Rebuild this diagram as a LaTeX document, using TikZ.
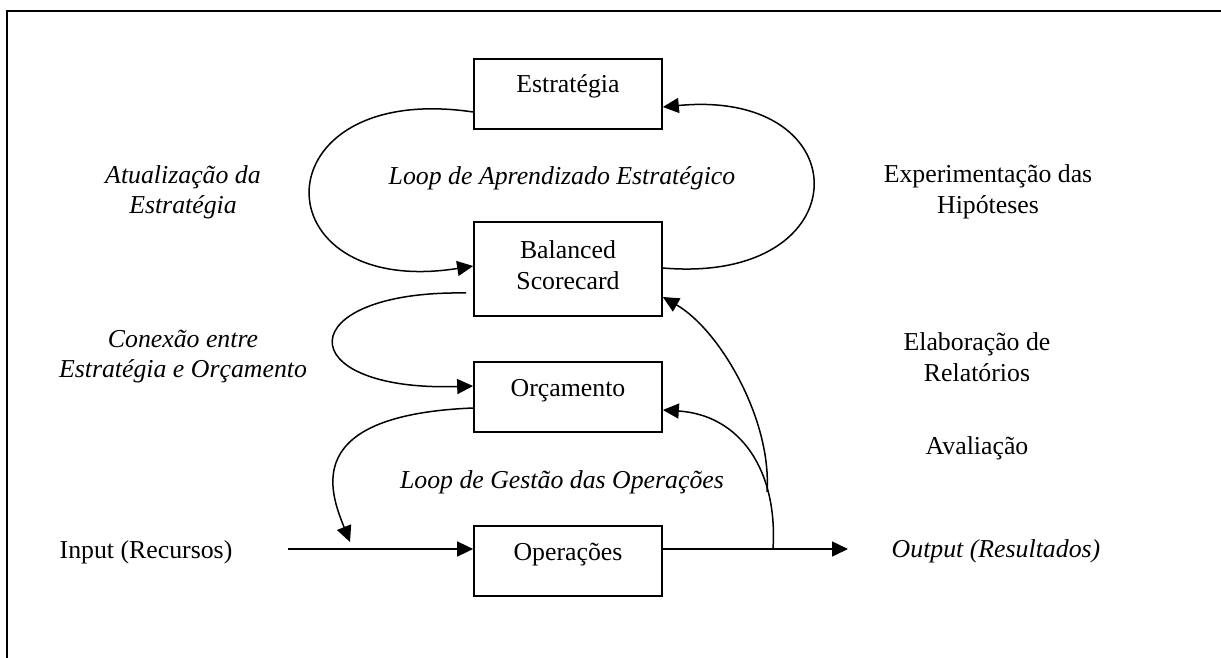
\documentclass[tikz,border=0pt]{standalone}
\usepackage{fontspec}
\setmainfont{Liberation Serif}
\usetikzlibrary{arrows.meta,calc}

\begin{document}
\begin{tikzpicture}[x=0.5pt,y=-0.5pt,
  every node/.style={font=\fontsize{12.9pt}{15.5pt}\selectfont, inner sep=0pt},
  stagebox/.style={draw, line width=0.85pt, minimum width=94pt,
    text height=17pt, text depth=18pt},
  tallbox/.style={draw, line width=0.85pt, minimum width=94pt,
    minimum height=47pt, align=center},
  conn/.style={line width=0.75pt},
  arr/.style={conn, -{Triangle[length=8pt,width=7.5pt]}},
  note/.style={align=center},
  inote/.style={align=center, font=\fontsize{12.9pt}{15pt}\selectfont\itshape}]

\useasboundingbox (0,0) rectangle (1221,658);

% outer frame (left and top edges)
\draw[line width=1pt] (7,658) -- (7,11) -- (1221,11);

% stages
\node[stagebox] (est) at (568,94)  {Estratégia};
\node[tallbox]  (bsc) at (568,269) {Balanced\\Scorecard\rule[-4pt]{0pt}{0pt}};
\node[stagebox] (orc) at (568,397) {Orçamento};
\node[stagebox] (ops) at (568,561) {Operações};

% side labels
\node[inote] (lAtu) at (183,192) {Atualização da\\Estratégia};
\node[note]  (lExp) at (988,192) {Experimentação das\\Hipóteses};
\node[inote] (lCon) at (183,357) {Conexão entre\\Estratégia e Orçamento};
\node[note]  (lEla) at (977,357) {Elaboração de\\Relatórios};
\node[note]  (lAva) at (977,448) {Avaliação};
\node[inote] (lLA)  at (562,178) {Loop de Aprendizado Estratégico};
\node[inote] (lLG)  at (562,482) {Loop de Gestão das Operações};
\node[note]  (lIn)  at (146,552) {Input (Recursos)};
\node[inote] (lOut) at (996,551) {Output (Resultados)};

% free ends of connectors
\coordinate (inStart) at (288,549);
\coordinate (outEnd)  at (848,549);
\coordinate (opsIn)   at (350,542);
\coordinate (fbOrc)   at (773,549);
\coordinate (fbBsc)   at (767,492);

% strategic learning loop
\draw[arr] ($(est.west)+(0,18)$) .. controls (257,80) and (257,300) .. ($(bsc.west)+(0,-3)$);
\draw[arr] ($(bsc.east)+(0,-1)$) .. controls (862,285) and (862,88) .. ($(est.east)+(0,13)$);

% strategy to budget link
\draw[arr] ($(bsc.west)+(-7,24)$) .. controls (290,290) and (288,392) .. ($(orc.west)+(0,-11)$);

% operational management loop
\draw[arr] ($(orc.west)+(0,11)$) .. controls (300,415) and (330,492) .. (opsIn);
\draw[arr] (fbOrc) .. controls (778,470) and (740,415) .. ($(orc.east)+(0,13)$);
\draw[arr] (fbBsc) .. controls (772,420) and (720,330) .. ($(bsc.east)+(0,28)$);

% input and output flow
\draw[arr] (inStart) -- ($(ops.west)+(0,-12)$);
\draw[arr] ($(ops.east)+(0,-12)$) -- (outEnd);

\end{tikzpicture}
\end{document}
